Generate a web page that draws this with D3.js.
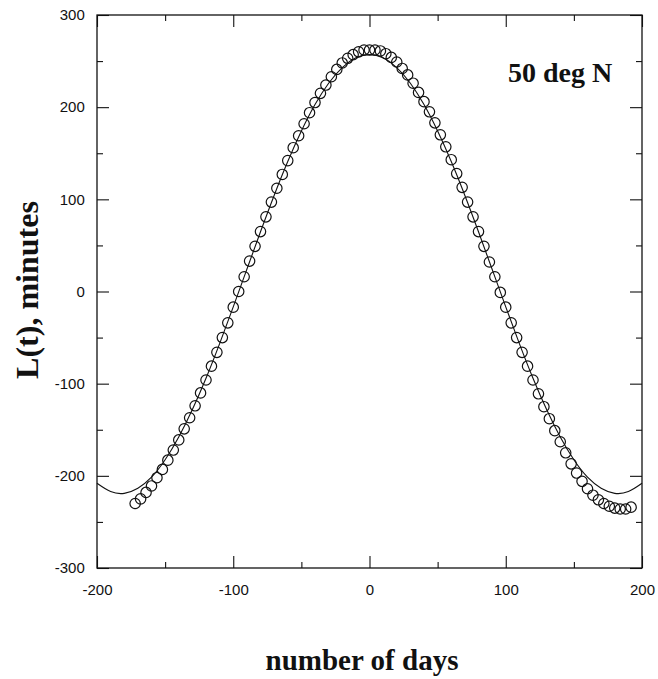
<!DOCTYPE html>
<html>
<head>
<meta charset="utf-8">
<script src="https://cdn.jsdelivr.net/npm/d3@7"></script>
<style>
  html, body { margin: 0; padding: 0; background: #fff; }
  svg { display: block; }
  .tick-label { font-family: "Liberation Sans", Arial, sans-serif; font-size: 15px; fill: #111; }
  .title { font-family: "Liberation Serif", "Times New Roman", serif; font-weight: bold; fill: #111; }
</style>
</head>
<body>
<svg id="chart" width="658" height="679"></svg>
<script>
const obsDays = [
  -172, -168, -164, -160, -156, -152, -148, -144, -140, -136, -132, -128, -124, -120, -116,
  -112, -108, -104, -100, -96, -92, -88, -84, -80, -76, -72, -68, -64, -60, -56, -52, -48,
  -44, -40, -36, -32, -28, -24, -20, -16, -12, -8, -4, 0, 4, 8, 12, 16, 20, 24, 28, 32, 36,
  40, 44, 48, 52, 56, 60, 64, 68, 72, 76, 80, 84, 88, 92, 96, 100, 104, 108, 112, 116, 120,
  124, 128, 132, 136, 140, 144, 148, 152, 156, 160, 164, 168, 172, 176, 180, 184, 188, 192
];
const obsValues = [
  -230, -225, -218, -211, -202, -193, -183, -172, -161, -149, -137, -124, -110, -96, -81,
  -66, -50, -34, -17, 0, 16, 33, 49, 65, 81, 97, 112, 127, 142, 156, 169, 182,
  194, 205, 215, 224, 233, 241, 248, 253, 257, 260, 262, 262, 262, 261, 258, 254, 249, 242, 235, 226, 216,
  206, 195, 183, 170, 157, 143, 128, 113, 97, 81, 65, 49, 32, 16, -1, -17, -34, -50, -66, -81, -96,
  -111, -125, -138, -151, -163, -175, -187, -197, -206, -214, -221, -226, -230, -233, -235, -236, -236, -234
];

// fitted curve (solid line), read every 10 days
const fitDays = [
  -200, -190, -180, -170, -160, -150, -140, -130, -120, -110, -100, -90, -80, -70, -60, -50, -40,
  -30, -20, -10, 0, 10, 20, 30, 40, 50, 60, 70, 80, 90, 100, 110, 120, 130, 140, 150, 160, 170,
  180, 190, 200
];
const fitValues = [
  -208, -217, -219, -213.5, -201.5, -182.6, -157.9, -128.1, -94.1, -56.5, -16.7, 24.1, 64.8, 104.2,
  141, 174.1, 202.8, 226, 243, 253.5, 257, 253.5, 243, 226, 202.8, 174.1, 141, 104.2, 64.8, 24.1,
  -16.7, -56.5, -94.1, -128.1, -157.9, -182.6, -201.5, -213.5, -219, -217, -208
];

const xMajor = [-200, -100, 0, 100, 200];
const xMinor = [-150, -50, 50, 150];
const yMajor = [-300, -200, -100, 0, 100, 200, 300];
const yMinor = [-250, -150, -50, 50, 150, 250];

const LEFT = 97, RIGHT = 642, TOP = 15, BOTTOM = 568;

const svg = d3.select("#chart");
const x = d3.scaleLinear().domain([-200, 200]).range([LEFT, RIGHT]);
const y = d3.scaleLinear().domain([-300, 300]).range([BOTTOM, TOP]);

const fmt = d => String(d);
const MAJ = 12, MIN = 6;

// frame ticks on all four sides, pointing inward
function tickAxis(axisFn, scale, major, minor, tx, ty, showLabels) {
  const g = svg.append("g").attr("transform", `translate(${tx},${ty})`);
  g.append("g").call(axisFn(scale).tickValues(major).tickSize(-MAJ).tickPadding(showLabels ? 16 : 0)
      .tickFormat(showLabels ? fmt : ""));
  g.append("g").call(axisFn(scale).tickValues(minor).tickSize(-MIN).tickFormat(""));
  g.selectAll(".domain").remove();
  g.selectAll("line").attr("stroke", "#111").attr("stroke-width", 1.1);
  g.selectAll("text").attr("class", "tick-label").attr("fill", null);
  return g;
}

tickAxis(d3.axisBottom, x, xMajor, xMinor, 0, BOTTOM, true);
tickAxis(d3.axisTop, x, xMajor, xMinor, 0, TOP, false);
const leftAx = tickAxis(d3.axisLeft, y, yMajor, yMinor, LEFT, 0, true);
leftAx.selectAll("text").attr("dx", "0.25em");
tickAxis(d3.axisRight, y, yMajor, yMinor, RIGHT, 0, false);

// frame
svg.append("rect")
  .attr("x", LEFT).attr("y", TOP)
  .attr("width", RIGHT - LEFT).attr("height", BOTTOM - TOP)
  .attr("fill", "none").attr("stroke", "#111").attr("stroke-width", 1.3);

// fitted curve
const fit = fitDays.map((d, i) => ({ day: d, v: fitValues[i] }));
const line = d3.line().x(d => x(d.day)).y(d => y(d.v)).curve(d3.curveNatural);
svg.append("path").datum(fit)
  .attr("d", line)
  .attr("fill", "none").attr("stroke", "#111").attr("stroke-width", 1.1);

// observed points
const obs = obsDays.map((d, i) => ({ day: d, v: obsValues[i] }));
svg.append("g").selectAll("circle").data(obs).join("circle")
  .attr("cx", d => x(d.day)).attr("cy", d => y(d.v))
  .attr("r", 5.2)
  .attr("fill", "none").attr("stroke", "#111").attr("stroke-width", 1.2);

// labels
svg.append("text").attr("class", "title")
  .attr("x", 508).attr("y", 82).style("font-size", "28px")
  .text("50 deg N");

svg.append("text").attr("class", "title")
  .attr("x", 362).attr("y", 670).attr("text-anchor", "middle").style("font-size", "29px")
  .text("number of days");

svg.append("text").attr("class", "title")
  .attr("transform", "translate(38,290) rotate(-90)")
  .attr("text-anchor", "middle").style("font-size", "32px")
  .text("L(t), minutes");
</script>
</body>
</html>
